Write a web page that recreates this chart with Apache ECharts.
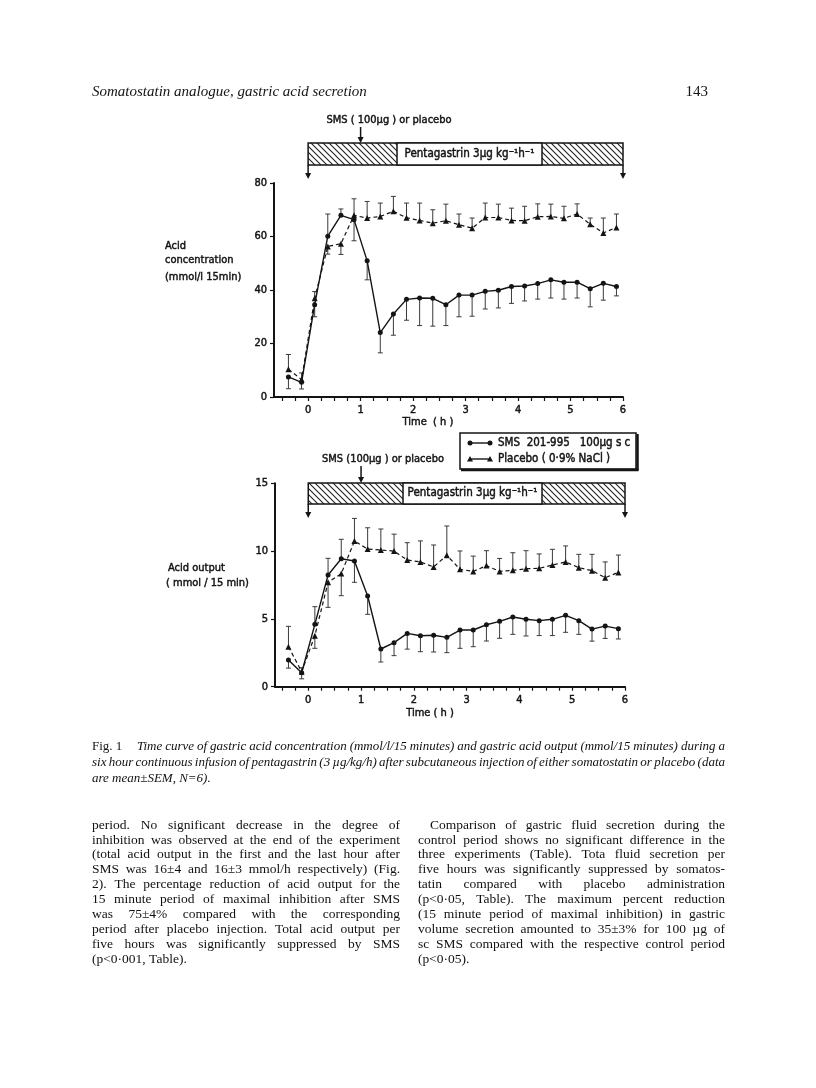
<!DOCTYPE html>
<html><head><meta charset="utf-8">
<script src="https://cdn.jsdelivr.net/npm/echarts@6/dist/echarts.min.js"></script>
<style>html,body{margin:0;padding:0;background:#fff}#c{width:816px;height:1088px}</style>
</head><body><div id="c"></div>
<script>
// ---------------- DATA ----------------
const times = [-0.375,-0.125,0.125,0.375,0.625,0.875,1.125,1.375,1.625,1.875,2.125,2.375,2.625,2.875,3.125,3.375,3.625,3.875,4.125,4.375,4.625,4.875,5.125,5.375,5.625,5.875];
// Acid concentration (mmol/l 15min); error: signed SEM (sign = direction of the drawn bar)
const concSMS    = [7.5,5.5,34.5,60.1,67.9,66.3,50.9,24.1,31.0,36.5,37.0,36.9,34.5,38.1,38.1,39.5,39.9,41.3,41.5,42.4,43.8,42.9,42.9,40.5,42.5,41.3];
const concSMSErr = [-4.4,-2.5,-4.5,8.3,2.4,-7.9,-7.1,-7.6,-7.9,-7.8,-10.3,-10.4,-7.8,-8.1,-7.9,-6.6,-6.6,-6.3,-5.6,-5.8,-6.8,-6.3,-5.9,-6.8,-6.3,-3.5];
const concPlac    = [10.4,6.5,36.9,56.3,57.3,67.9,66.9,67.5,69.4,67.0,66.0,65.0,65.9,64.4,63.1,67.1,67.1,66.0,65.9,67.4,67.5,66.8,68.4,64.6,61.3,63.4];
const concPlacErr = [5.5,2.5,2.5,-2.9,-4.0,6.2,6.2,5.0,5.6,5.5,6.5,5.0,6.2,4.0,3.8,5.4,5.0,4.6,5.4,4.8,4.6,4.5,3.8,2.3,5.6,5.0];
// Acid output (mmol / 15min)
const outSMS    = [1.97,1.03,4.6,8.24,9.44,9.27,6.69,2.78,3.25,3.93,3.76,3.79,3.64,4.18,4.18,4.57,4.82,5.14,4.97,4.87,4.97,5.26,4.87,4.25,4.47,4.28];
const outSMSErr = [-0.6,-0.45,1.3,1.23,1.43,-1.57,-1.35,-0.96,-0.96,-1.16,-1.18,-1.23,-1.13,-1.35,-1.23,-1.2,-1.25,-1.28,-1.23,-1.1,-1.2,-1.25,-1.01,-0.89,-0.91,-0.76];
const outPlac    = [2.95,1.1,3.76,7.7,8.34,10.74,10.15,10.08,10.0,9.34,9.2,8.83,9.69,8.66,8.5,8.93,8.5,8.58,8.7,8.73,8.97,9.2,8.78,8.56,8.04,8.43];
const outPlacErr = [1.5,0.3,-0.93,-1.85,-1.63,1.67,1.57,1.55,1.25,1.28,1.55,1.62,2.16,1.35,1.13,1.1,0.96,1.3,1.33,1.06,1.16,1.18,0.98,1.2,1.16,1.28];
// axes
const xTickValues  = [-0.5,-0.25,0,0.25,0.5,0.75,1,1.25,1.5,1.75,2,2.25,2.5,2.75,3,3.25,3.5,3.75,4,4.25,4.5,4.75,5,5.25,5.5,5.75,6];
const xLabelValues = [0,1,2,3,4,5,6];
// protocol
const infusionStart = 0, infusionEnd = 6, injectionTime = 1;
// texts
const headerTitle = 'Somatostatin analogue, gastric acid secretion';
const pageNumber = '143';
const legendSMS = 'SMS  201-995   100µg s c';
const legendPlac = 'Placebo ( 0·9% NaCl )';
const captionLines = [
  'Time curve of gastric acid concentration (mmol/l/15 minutes) and gastric acid output (mmol/15 minutes) during a',
  'six hour continuous infusion of pentagastrin (3 µg/kg/h) after subcutaneous injection of either somatostatin or placebo (data',
  'are mean±SEM, N=6).'
];
const leftCol = [
  'period. No significant decrease in the degree of',
  'inhibition was observed at the end of the experiment',
  '(total acid output in the first and the last hour after',
  'SMS was 16±4 and 16±3 mmol/h respectively) (Fig.',
  '2). The percentage reduction of acid output for the',
  '15 minute period of maximal inhibition after SMS',
  'was 75±4% compared with the corresponding',
  'period after placebo injection. Total acid output per',
  'five hours was significantly suppressed by SMS',
  '(p<0·001, Table).'
];
const rightCol = [
  'Comparison of gastric fluid secretion during the',
  'control period shows no significant difference in the',
  'three experiments (Table). Tota fluid secretion per',
  'five hours was significantly suppressed by somatos-',
  'tatin compared with placebo administration',
  '(p<0·05, Table). The maximum percent reduction',
  '(15 minute period of maximal inhibition) in gastric',
  'volume secretion amounted to 35±3% for 100 µg of',
  'sc SMS compared with the respective control period',
  '(p<0·05).'
];

// ---------------- RENDER ----------------
const INK = '#141414';
const SANS = '"DejaVu Sans Condensed","DejaVu Sans",sans-serif';
const SERIF = '"Liberation Serif","DejaVu Serif",serif';
const FS = 11;       // figure lettering size
const EMB = 0.45;    // emboldening stroke
const chart = echarts.init(document.getElementById('c'), null, {renderer:'canvas', width:816, height:1088});

function lab(extra){
  return Object.assign({fontFamily:SANS, fontSize:FS, fontWeight:'normal', color:INK,
    textBorderColor:INK, textBorderWidth:EMB}, extra||{});
}
function axisX(gi, min){
  return {gridIndex:gi, type:'value', min:min, max:6,
    axisLine:{show:true, onZero:false, lineStyle:{color:INK, width:2}},
    axisTick:{show:true, customValues:xTickValues, length:4, lineStyle:{color:INK, width:1.2}},
    axisLabel:lab({customValues:xLabelValues, margin:8}),
    splitLine:{show:false}};
}
function axisY(gi, max, interval){
  return {gridIndex:gi, type:'value', min:0, max:max, interval:interval,
    axisLine:{show:true, onZero:false, lineStyle:{color:INK, width:2}},
    axisTick:{show:true, length:4, lineStyle:{color:INK, width:1.2}},
    axisLabel:lab({margin:7}),
    splitLine:{show:false}};
}
function lineSeries(xi, vals, placebo){
  return {type:'line', xAxisIndex:xi, yAxisIndex:xi, z:4, animation:false, silent:true,
    data: times.map((t,i)=>[t, vals[i]]),
    symbol: placebo ? 'triangle' : 'circle', symbolSize: placebo ? 6 : 5,
    itemStyle:{color:INK},
    lineStyle:{color:INK, width: placebo ? 1.2 : 1.4, type: placebo ? [4,3] : 'solid'}};
}
function errSeries(xi, vals, errs){
  return {type:'custom', xAxisIndex:xi, yAxisIndex:xi, z:2, animation:false, silent:true, clip:false,
    encode:{x:0, y:1},
    data: times.map((t,i)=>[t, vals[i], errs[i]]),
    renderItem(params, api){
      const x = api.value(0), v = api.value(1), e = api.value(2);
      const p0 = api.coord([x, v]), p1 = api.coord([x, v + e]);
      return {type:'group', children:[
        {type:'line', shape:{x1:p0[0], y1:p0[1], x2:p1[0], y2:p1[1]}, style:{stroke:'#3a3a3a', lineWidth:1}},
        {type:'line', shape:{x1:p1[0]-2.5, y1:p1[1], x2:p1[0]+2.5, y2:p1[1]}, style:{stroke:'#3a3a3a', lineWidth:1}}
      ]};
    }};
}

chart.setOption({
  animation:false,
  backgroundColor:'#fff',
  grid:[
    {left:274, right:193, top:183, bottom:691, containLabel:false, outerBoundsMode:'none'},
    {left:275, right:191, top:483.3, bottom:401.3, containLabel:false, outerBoundsMode:'none'}
  ],
  xAxis:[axisX(0, -0.65), axisX(1, -0.63)],
  yAxis:[axisY(0, 80, 20), axisY(1, 15, 5)],
  series:[
    errSeries(0, concSMS, concSMSErr), errSeries(0, concPlac, concPlacErr),
    lineSeries(0, concSMS, false), lineSeries(0, concPlac, true),
    errSeries(1, outSMS, outSMSErr), errSeries(1, outPlac, outPlacErr),
    lineSeries(1, outSMS, false), lineSeries(1, outPlac, true)
  ]
});

// ---------- decorations ----------
const G = [];
function txt(x, y, s, o){
  o = o || {};
  const serif = o.family === SERIF;
  G.push({type:'text', x:x, y:y, silent:true, style:{text:s, fill:INK,
    fontFamily:o.family||SANS, fontSize:o.size||FS, fontWeight:'normal', fontStyle:o.style||'normal',
    stroke: serif ? null : INK, lineWidth: serif ? 0 : EMB,
    align:o.align||'left', verticalAlign:'middle'}});
}
function ln(x1,y1,x2,y2,w){ G.push({type:'line', silent:true, shape:{x1,y1,x2,y2}, style:{stroke:INK, lineWidth:w||1.3}}); }
function arrow(x, y1, y2){
  ln(x, y1, x, y2-4, 1.5);
  G.push({type:'polygon', silent:true, shape:{points:[[x-3,y2-6],[x+3,y2-6],[x,y2]]}, style:{fill:INK}});
}
// hatch pattern
const pc = document.createElement('canvas'); pc.width = 6; pc.height = 6;
const pg = pc.getContext('2d'); pg.strokeStyle = '#222'; pg.lineWidth = 1.1;
pg.beginPath(); pg.moveTo(0,0); pg.lineTo(6,6); pg.moveTo(-1,5); pg.lineTo(1,7); pg.moveTo(5,-1); pg.lineTo(7,1); pg.stroke();

function infusion(xi, y0, y1, wx0, wx1, labelY){
  const xa = chart.convertToPixel({xAxisIndex:xi}, infusionStart);
  const xb = chart.convertToPixel({xAxisIndex:xi}, infusionEnd);
  G.push({type:'rect', silent:true, shape:{x:xa, y:y0, width:xb-xa, height:y1-y0}, style:{fill:{image:pc, repeat:'repeat'}, stroke:INK, lineWidth:1.5}});
  G.push({type:'rect', silent:true, shape:{x:wx0, y:y0, width:wx1-wx0, height:y1-y0}, style:{fill:'#fff', stroke:INK, lineWidth:1.5}});
  txt((wx0+wx1)/2, labelY, 'Pentagastrin 3µg kg⁻¹h⁻¹', {align:'center', size:11.5});
  arrow(xa, y1, y1+14);
  arrow(xb, y1, y1+14);
  return chart.convertToPixel({xAxisIndex:xi}, injectionTime);
}
// top chart protocol
let xi1 = infusion(0, 143, 165, 397, 542, 154.5);
arrow(xi1, 127, 143);
txt(389, 120, 'SMS ( 100µg ) or placebo', {align:'center'});
// bottom chart protocol
let xi2 = infusion(1, 483, 504, 403, 542, 493.5);
arrow(xi2, 466, 483);
txt(383, 459, 'SMS (100µg ) or placebo', {align:'center'});

// y-axis titles
txt(165, 246.5, 'Acid');
txt(165, 260, 'concentration');
txt(165, 277, '(mmol/l 15min)');
txt(168, 568, 'Acid output');
txt(166, 583, '( mmol / 15 min)');
// x-axis titles
txt(428, 422, 'Time  ( h )', {align:'center'});
txt(430, 713, 'Time ( h )', {align:'center'});

// legend
G.push({type:'rect', silent:true, shape:{x:460, y:433, width:176, height:36}, style:{fill:'#fff', stroke:INK, lineWidth:1.5}});
ln(637.5, 434, 637.5, 470.5, 2.5); ln(461, 470, 638.5, 470, 2.5);
ln(470, 443, 490, 443, 1.4);
G.push({type:'circle', silent:true, shape:{cx:470, cy:443, r:2.5}, style:{fill:INK}});
G.push({type:'circle', silent:true, shape:{cx:490, cy:443, r:2.5}, style:{fill:INK}});
ln(470, 459, 490, 459, 1.4);
G.push({type:'polygon', silent:true, shape:{points:[[467,461.5],[473,461.5],[470,456]]}, style:{fill:INK}});
G.push({type:'polygon', silent:true, shape:{points:[[487,461.5],[493,461.5],[490,456]]}, style:{fill:INK}});
txt(498, 443, legendSMS, {size:11.5});
txt(498, 459, legendPlac, {size:11.5});

// header
txt(92, 92, headerTitle, {family:SERIF, size:15, style:'italic'});
txt(708, 92, pageNumber, {family:SERIF, size:15, align:'right'});

// justified text helper
const mctx = document.createElement('canvas').getContext('2d');
function setLine(line, x, y, width, size, style, doJustify){
  const words = line.split(' ');
  mctx.font = style + ' ' + size + 'px ' + SERIF;
  const ws = words.map(w => mctx.measureText(w).width);
  const total = ws.reduce((a,b)=>a+b, 0);
  const sp = mctx.measureText(' ').width;
  const gap = (doJustify && words.length > 1) ? (width - total)/(words.length - 1) : sp;
  let cx = x;
  words.forEach((w,i)=>{
    G.push({type:'text', x:cx, y:y, silent:true, style:{text:w, fill:'#111', fontFamily:SERIF, fontSize:size,
      fontStyle:style, fontWeight:'normal', align:'left', verticalAlign:'middle'}});
    cx += ws[i] + gap;
  });
}
// caption
txt(92, 747, 'Fig. 1', {family:SERIF, size:13});
captionLines.forEach((l,i)=>{
  const x0 = i === 0 ? 137 : 92;
  setLine(l, x0, 747 + i*16, 725 - x0, 13, 'italic', i < 2);
});
// body columns
leftCol.forEach((l,i)=> setLine(l, 92, 825 + i*14.97, 308, 13.5, 'normal', i < leftCol.length-1));
rightCol.forEach((l,i)=>{
  const x0 = i === 0 ? 430 : 418;
  setLine(l, x0, 825 + i*14.97, 725 - x0, 13.5, 'normal', i < rightCol.length-1);
});

chart.setOption({graphic:{elements:G}});
</script></body></html>
